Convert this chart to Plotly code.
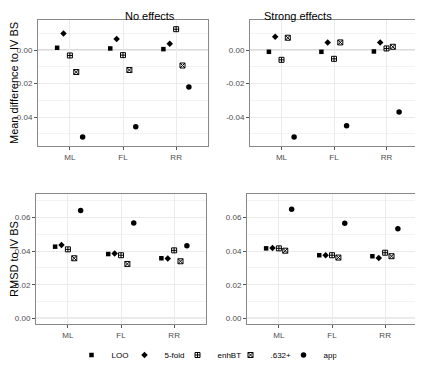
import plotly.graph_objects as go
from plotly.subplots import make_subplots

methods = ["ML", "FL", "RR"]
estimators = ["LOO", "5-fold", "enhBT", ".632+", "app"]

# mean difference to IV BS, no effects (rows = estimators, cols = methods)
md_none = {
    "LOO": [0.0014, 0.0010, 0.0006],
    "5-fold": [0.0100, 0.0066, 0.0038],
    "enhBT": [-0.0032, -0.0030, 0.0125],
    ".632+": [-0.0131, -0.0119, -0.0092],
    "app": [-0.0519, -0.0458, -0.0221],
}
md_strong = {
    "LOO": [-0.0010, -0.0010, -0.0008],
    "5-fold": [0.0080, 0.0046, 0.0046],
    "enhBT": [-0.0058, -0.0052, 0.0010],
    ".632+": [0.0074, 0.0046, 0.0020],
    "app": [-0.0519, -0.0452, -0.0370],
}
rmsd_none = {
    "LOO": [0.0427, 0.0383, 0.0358],
    "5-fold": [0.0437, 0.0387, 0.0356],
    "enhBT": [0.0411, 0.0376, 0.0405],
    ".632+": [0.0358, 0.0324, 0.0340],
    "app": [0.0642, 0.0568, 0.0433],
}
rmsd_strong = {
    "LOO": [0.0417, 0.0376, 0.0370],
    "5-fold": [0.0419, 0.0376, 0.0360],
    "enhBT": [0.0417, 0.0376, 0.0391],
    ".632+": [0.0403, 0.0362, 0.0370],
    "app": [0.0650, 0.0566, 0.0534],
}

md_ticks = [0.0, -0.02, -0.04]
md_ticklabels = ["0.00", "-0.02", "-0.04"]
rmsd_ticks = [0.0, 0.02, 0.04, 0.06]
rmsd_ticklabels = ["0.00", "0.02", "0.04", "0.06"]

symbols = {
    "LOO": dict(symbol="square", size=4.5),
    "5-fold": dict(symbol="diamond", size=5),
    "enhBT": dict(symbol="square-cross-open", size=5, line=dict(width=1, color="#666")),
    ".632+": dict(symbol="square-x-open", size=5, line=dict(width=1, color="#666")),
    "app": dict(symbol="circle", size=5.5),
}

FONT = "Liberation Sans, Arial, sans-serif"
GRID = "#ebebeb"
AXIS_TXT = "#4d4d4d"

# the page body keeps its default 8px margin, so lay out in window pixels minus that
OFF = 8
W, H = 423 - OFF, 370 - OFF


def px(x):
    return (x - OFF) / W


def py(y):
    return 1 - (y - OFF) / H


fig = make_subplots(rows=2, cols=2)

panels = [(md_none, 1, 1), (md_strong, 1, 2), (rmsd_none, 2, 1), (rmsd_strong, 2, 2)]
for i, (data, r, c) in enumerate(panels):
    for est in estimators:
        fig.add_trace(
            go.Scatter(
                x=methods,
                y=data[est],
                mode="markers",
                name=est,
                legendgroup=est,
                showlegend=(i == 0),
                offsetgroup=est,
                marker=dict(color="black", **symbols[est]),
            ),
            row=r, col=c,
        )
    fig.add_hline(y=0, line=dict(color="#a0a0a0", width=1), row=r, col=c, layer="below")

x_domains = {(1, 1): [px(38), px(208)], (1, 2): [px(250), px(418)],
             (2, 1): [px(36), px(206)], (2, 2): [px(247), px(417)]}
y_domains = {1: [py(146), py(20)], 2: [py(324), py(194)]}

for (r, c), xd in x_domains.items():
    fig.update_xaxes(
        domain=xd, type="category", range=[-0.6, 2.6], automargin=False,
        showgrid=True, gridcolor=GRID, gridwidth=1,
        showline=True, mirror=True, linecolor="#888", linewidth=1,
        ticks="outside", ticklen=3, tickcolor="#555",
        tickfont=dict(size=8, color=AXIS_TXT, family=FONT),
        zeroline=False, row=r, col=c,
    )
    if r == 1:
        yr, tv, tt = [-0.0573, 0.0180], md_ticks, md_ticklabels
        minor = [0.01, -0.01, -0.03, -0.05]
    else:
        yr, tv, tt = [-0.0034, 0.0741], rmsd_ticks, rmsd_ticklabels
        minor = [0.01, 0.03, 0.05, 0.07]
    fig.update_yaxes(
        domain=y_domains[r], range=yr, tickvals=tv, ticktext=tt, automargin=False,
        showgrid=True, gridcolor=GRID, gridwidth=1,
        minor=dict(tickvals=minor, showgrid=True, gridcolor="#f3f3f3", gridwidth=0.5, ticks=""),
        showline=True, mirror=True, linecolor="#888", linewidth=1,
        ticks="outside", ticklen=3, tickcolor="#555",
        tickfont=dict(size=8, color=AXIS_TXT, family=FONT),
        zeroline=False, row=r, col=c,
    )

fig.update_yaxes(title=dict(text="Mean difference to IV BS", font=dict(size=11, color="black", family=FONT), standoff=6), row=1, col=1)
fig.update_yaxes(title=dict(text="RMSD to IV BS", font=dict(size=11, color="black", family=FONT), standoff=6), row=2, col=1)

fig.add_annotation(text="No effects", x=sum(x_domains[(1, 1)]) / 2, y=1, xref="paper", yref="paper",
                   yanchor="top", showarrow=False, font=dict(size=11, color="black", family=FONT))
fig.add_annotation(text="Strong effects", x=sum(x_domains[(1, 2)]) / 2, y=1, xref="paper", yref="paper",
                   yanchor="top", showarrow=False, font=dict(size=11, color="black", family=FONT))

fig.update_layout(
    width=W, height=H,
    margin=dict(l=0, r=0, t=0, b=0, autoexpand=False),
    paper_bgcolor="white", plot_bgcolor="white",
    scattermode="group", scattergap=0.4,
    font=dict(family=FONT),
    legend=dict(orientation="h", x=px(204), xanchor="center", y=py(355), yanchor="middle",
                font=dict(size=8, color="black", family=FONT),
                entrywidth=8, entrywidthmode="pixels", itemwidth=30,
                bgcolor="rgba(0,0,0,0)"),
)

fig.write_html("out.html")
